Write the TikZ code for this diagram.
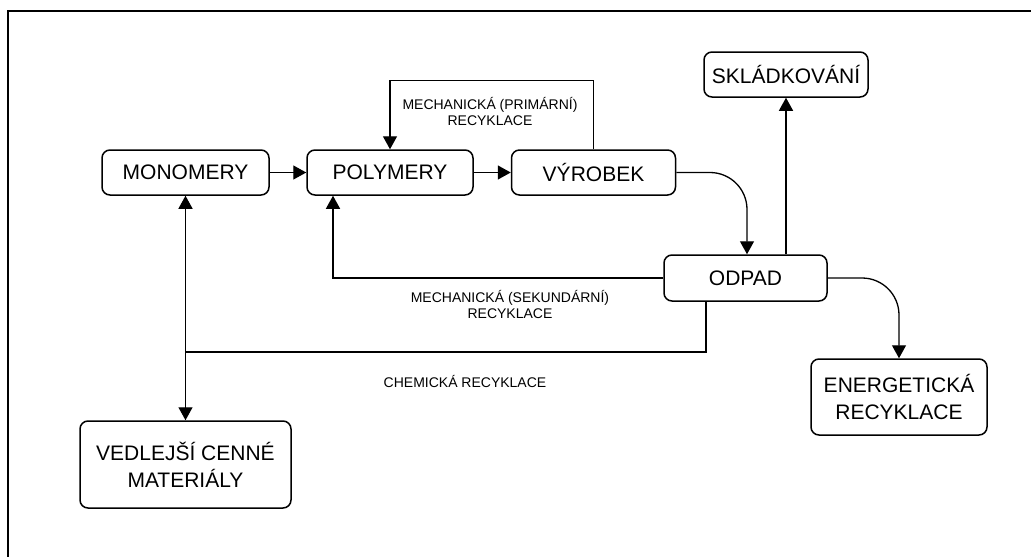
\documentclass[tikz,border=0pt]{standalone}
\usepackage{fontspec}
\setmainfont{Liberation Sans}
\usetikzlibrary{arrows.meta}
\tikzset{
    every node/.style={font=\fontsize{21}{27}\selectfont},
    box/.style={draw, rectangle, rounded corners=8pt, line width=1.5pt, align=center, inner sep=2pt},
    arr/.style={-{Triangle[width=14pt,length=13pt]}, line width=1.3pt},
    note/.style={font=\fontsize{14}{16}\selectfont, align=center}
}
\begin{document}
\begin{tikzpicture}[x=1pt,y=-1pt]
            \useasboundingbox (0,0) rectangle (1031,557);
            \draw[line width=2pt] (8,570) -- (8,11) -- (1045,11);

            \node[box, minimum width=167pt, minimum height=45pt] (monomery) at (185.5,172.5) {MONOMERY};
            \node[box, minimum width=166pt, minimum height=45pt] (polymery) at (390,172.5) {POLYMERY};
            \node[box, minimum width=164pt, minimum height=45pt] (vyrobek) at (593.5,172.5) {VÝROBEK};
            \node[box, minimum width=164pt, minimum height=45pt] (skladka) at (786,74.5) {SKLÁDKOVÁNÍ};
            \node[box, minimum width=163pt, minimum height=46pt] (odpad) at (745.5,278) {ODPAD};
            \node[box, minimum width=176pt, minimum height=76pt] (energie) at (899,397) {ENERGETICKÁ\\RECYKLACE};
            \node[box, minimum width=211pt, minimum height=87pt] (vedlejsi) at (185.5,464.5) {VEDLEJŠÍ CENNÉ\\MATERIÁLY};
            \coordinate (chem) at (185.5,352);

            \draw[arr] (monomery) -- (polymery);
            \draw[arr] (polymery) -- (vyrobek);
            \draw[arr] (vyrobek.north) -- ++(0,-69) -| (polymery.north);
            \draw[arr, rounded corners=37pt] (vyrobek.east) -| ([xshift=1.5pt]odpad.north);
            \draw[arr] (skladka.south |- odpad.north) -- (skladka.south);
            \draw[arr] (odpad.west) -| ([xshift=-57pt]polymery.south);
            \draw[line width=1.3pt] ([xshift=-39.5pt]odpad.south) |- (chem);
            \draw[{Triangle[width=14pt,length=13pt]}-{Triangle[width=14pt,length=13pt]}, line width=1.3pt] (monomery.south) -- (vedlejsi.north);
            \draw[arr, rounded corners=37pt] (odpad.east) -| (energie.north);

            \node[note] (primarni) at (490,111) {MECHANICKÁ (PRIMÁRNÍ)\\RECYKLACE};
            \node[note] (sekundarni) at (510,304) {MECHANICKÁ (SEKUNDÁRNÍ)\\RECYKLACE};
            \node[note] (chemicka) at (465,381) {CHEMICKÁ RECYKLACE};
        \end{tikzpicture}
\end{document}
